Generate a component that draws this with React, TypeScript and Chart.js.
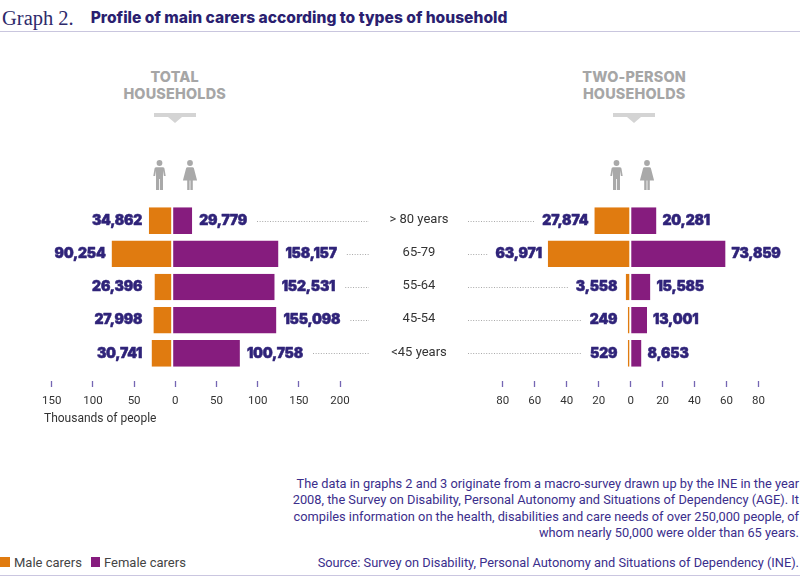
import React, { useEffect, useRef } from 'react';
import { Chart, registerables } from 'chart.js';

Chart.register(...registerables);

// ---- data ----
const AGE_GROUPS = ['> 80 years', '65-79', '55-64', '45-54', '<45 years'];
const SERIES = ['Male carers', 'Female carers'];
const TOTAL_MALE = [34862, 90254, 26396, 27998, 30741];
const TOTAL_FEMALE = [29779, 158157, 152531, 155098, 100758];
const TWO_PERSON_MALE = [27874, 63971, 3558, 249, 529];
const TWO_PERSON_FEMALE = [20281, 73859, 15585, 13001, 8653];
const TOTAL_TICKS = [-150, -100, -50, 0, 50, 100, 150, 200]; // thousands of people
const TWO_PERSON_TICKS = [-80, -60, -40, -20, 0, 20, 40, 60, 80]; // thousands of people

// ---- styles ----
const ORANGE = '#e07b10';
const PURPLE = '#861c7e';
const INK = '#2f2379';
const VALUE_FONT = '900 14px Inter';

const fmt = (v: number) => v.toLocaleString('en-US');

const panelLabelsPlugin = {
  id: 'panelLabels',
  afterDatasetsDraw(chart: any, _args: any, opts: any) {
    const { ctx } = chart;
    const yScale = chart.scales.y;
    const maleMeta = chart.getDatasetMeta(0);
    const femaleMeta = chart.getDatasetMeta(1);
    const maleData = chart.data.datasets[0].data as number[];
    const femaleData = chart.data.datasets[1].data as number[];
    ctx.save();
    (chart.data.labels as string[]).forEach((label, i) => {
      const m = maleMeta.data[i] as any;
      const f = femaleMeta.data[i] as any;
      const y = yScale.getPixelForValue(i);
      ctx.font = VALUE_FONT;
      try { (ctx as any).letterSpacing = '-0.2px'; } catch (e) { /* ignore */ }
      ctx.fillStyle = INK;
      ctx.strokeStyle = INK;
      ctx.lineWidth = 0.5;
      ctx.lineJoin = 'round';
      ctx.textBaseline = 'middle';
      const mText = fmt(Math.abs(maleData[i]));
      const fText = fmt(femaleData[i]);
      const mx = Math.min(m.base - opts.maleColumnInset, m.x - opts.maleGap);
      ctx.textAlign = 'right';
      ctx.fillText(mText, mx, y);
      ctx.strokeText(mText, mx, y);
      const fx = f.x + opts.femaleGap;
      ctx.textAlign = 'left';
      ctx.fillText(fText, fx, y);
      ctx.strokeText(fText, fx, y);
      const mW = ctx.measureText(mText).width;
      const fW = ctx.measureText(fText).width;
      try { (ctx as any).letterSpacing = '0px'; } catch (e) { /* ignore */ }
      let x0: number, x1: number;
      if (opts.leaderSide === 'right') {
        x0 = fx + fW + 10;
        x1 = opts.leaderEdge;
      } else {
        x0 = opts.leaderEdge;
        x1 = mx - mW - 8;
      }
      if (x1 > x0) {
        const ly = Math.round(y) + 0.5;
        ctx.beginPath();
        ctx.setLineDash([1, 1.6]);
        ctx.lineWidth = 1;
        ctx.strokeStyle = '#a9a9a9';
        ctx.moveTo(x0, ly);
        ctx.lineTo(x1, ly);
        ctx.stroke();
        ctx.setLineDash([]);
      }
      if (opts.ageLabelX) {
        ctx.font = '13px Roboto';
        ctx.fillStyle = '#333333';
        ctx.textAlign = 'center';
        ctx.fillText(String(label), opts.ageLabelX, y - 1);
      }
    });
    ctx.restore();
  },
};

type PanelSpec = {
  male: number[];
  female: number[];
  ticks: number[];
  barRange: [number, number];
  axisRange: [number, number];
  padLeft: number;
  axisTitle: string;
  labels: any;
};

function buildConfig(spec: PanelSpec): any {
  const common = {
    xAxisID: 'xb',
    grouped: false,
    categoryPercentage: 1,
    barPercentage: 0.8,
    minBarLength: 2.5,
    borderColor: '#ffffff',
    borderSkipped: false,
  };
  return {
    type: 'bar',
    data: {
      labels: AGE_GROUPS,
      datasets: [
        {
          ...common,
          label: SERIES[0],
          data: spec.male.map((v) => -v),
          backgroundColor: ORANGE,
          borderWidth: { right: 1, left: 0, top: 0, bottom: 0 },
        },
        {
          ...common,
          label: SERIES[1],
          data: spec.female,
          backgroundColor: PURPLE,
          borderWidth: { left: 1, right: 0, top: 0, bottom: 0 },
        },
      ],
    },
    options: {
      indexAxis: 'y',
      animation: false,
      responsive: false,
      maintainAspectRatio: false,
      layout: { padding: { left: spec.padLeft, top: 204, right: 0, bottom: 0 } },
      plugins: {
        legend: { display: false },
        tooltip: { enabled: false },
        panelLabels: spec.labels,
      },
      scales: {
        y: { type: 'category', display: false, offset: true },
        xb: { type: 'linear', display: false, min: spec.barRange[0], max: spec.barRange[1] },
        xt: {
          type: 'linear',
          position: 'bottom',
          min: spec.axisRange[0],
          max: spec.axisRange[1],
          afterBuildTicks: (axis: any) => {
            axis.ticks = spec.ticks.map((v) => ({ value: v }));
          },
          afterFit: (axis: any) => {
            axis.height = 56;
          },
          ticks: {
            callback: (v: any) => String(Math.abs(Number(v))),
            font: { family: 'Roboto', size: 11.5 },
            color: '#333333',
            padding: 7.5,
            autoSkip: false,
            maxRotation: 0,
          },
          grid: {
            drawOnChartArea: false,
            drawTicks: true,
            tickLength: 17,
            tickColor: '#7566b3',
            tickWidth: 1.3,
            tickBorderDash: [0, 11, 6, 40],
          },
          border: { display: false },
          title: {
            display: true,
            text: spec.axisTitle,
            align: 'start',
            font: { family: 'Roboto', size: 12 },
            color: '#333333',
            padding: { top: 4, bottom: 0 },
          },
        },
      },
    },
    plugins: [panelLabelsPlugin],
  };
}

const LEFT_SPEC: PanelSpec = {
  male: TOTAL_MALE,
  female: TOTAL_FEMALE,
  ticks: TOTAL_TICKS,
  barRange: [-190800, 428300],
  axisRange: [-159.4, 345.6],
  padLeft: 44,
  axisTitle: 'Thousands of people',
  labels: { maleColumnInset: 30, maleGap: 6, femaleGap: 7, leaderSide: 'right', leaderEdge: 369, ageLabelX: 419 },
};

const RIGHT_SPEC: PanelSpec = {
  male: TWO_PERSON_MALE,
  female: TWO_PERSON_FEMALE,
  ticks: TWO_PERSON_TICKS,
  barRange: [-132000, 131550],
  axisRange: [-106.8, 106.0],
  padLeft: 0,
  axisTitle: ' ',
  labels: { maleColumnInset: 13, maleGap: 6, femaleGap: 6, leaderSide: 'left', leaderEdge: 8 },
};

const ICON_GRAY = '#a9a9a9';

function MaleIcon({ cx }: { cx: number }) {
  return (
    <svg width={13} height={30} viewBox="0 0 13 30" style={{ position: 'absolute', left: cx - 6.5, top: 160 }}>
      <circle cx={6.5} cy={3} r={2.9} fill={ICON_GRAY} />
      <path
        d="M3 7.2 h7 a1.5 1.5 0 0 1 1.5 1.5 l1.2 7.3 h-1.8 l-0.9 -5.5 v19.5 h-3.1 v-11 h-0.8 v11 h-3.1 v-19.5 l-0.9 5.5 h-1.8 l1.2 -7.3 a1.5 1.5 0 0 1 1.5 -1.5 z"
        fill={ICON_GRAY}
      />
    </svg>
  );
}

function FemaleIcon({ cx }: { cx: number }) {
  return (
    <svg width={16} height={30} viewBox="0 0 16 30" style={{ position: 'absolute', left: cx - 8, top: 160 }}>
      <circle cx={8} cy={3} r={2.9} fill={ICON_GRAY} />
      <path
        d="M5.5 7.2 h5 a1.5 1.5 0 0 1 1.4 1 l3.2 12.3 h-4.3 v9.5 h-2.4 v-9.5 h-0.8 v9.5 h-2.4 v-9.5 h-4.3 l3.2 -12.3 a1.5 1.5 0 0 1 1.4 -1 z"
        fill={ICON_GRAY}
      />
    </svg>
  );
}

function PanelHeader({ cx, lines, maleX, femaleX }: { cx: number; lines: string[]; maleX: number; femaleX: number }) {
  return (
    <>
      <div
        style={{
          position: 'absolute',
          left: cx - 100,
          width: 200,
          top: 68.3,
          textAlign: 'center',
          fontFamily: 'Inter, sans-serif',
          fontWeight: 800,
          fontSize: 14.4,
          lineHeight: '17px',
          color: '#a6a6a6',
          letterSpacing: 0.2,
          whiteSpace: 'nowrap',
        }}
      >
        {lines[0]}
        <br />
        {lines[1]}
      </div>
      <div style={{ position: 'absolute', left: cx - 21, top: 112.7, width: 42, height: 4.6, background: '#d4d4d4' }} />
      <div
        style={{
          position: 'absolute',
          left: cx - 7,
          top: 117.3,
          width: 0,
          height: 0,
          borderLeft: '7px solid transparent',
          borderRight: '7px solid transparent',
          borderTop: '6px solid #d4d4d4',
        }}
      />
      <MaleIcon cx={maleX} />
      <FemaleIcon cx={femaleX} />
    </>
  );
}

const FOOTER_LINES = [
  'The data in graphs 2 and 3 originate from a macro-survey drawn up by the INE in the year',
  '2008, the Survey on Disability, Personal Autonomy and Situations of Dependency (AGE). It',
  'compiles information on the health, disabilities and care needs of over 250,000 people, of',
  'whom nearly 50,000 were older than 65 years.',
];
const SOURCE = 'Source: Survey on Disability, Personal Autonomy and Situations of Dependency (INE).';

export default function App() {
  const leftRef = useRef<HTMLCanvasElement | null>(null);
  const rightRef = useRef<HTMLCanvasElement | null>(null);

  useEffect(() => {
    const a = new Chart(leftRef.current as HTMLCanvasElement, buildConfig(LEFT_SPEC));
    const b = new Chart(rightRef.current as HTMLCanvasElement, buildConfig(RIGHT_SPEC));
    return () => {
      a.destroy();
      b.destroy();
    };
  }, []);

  const footerStyle: React.CSSProperties = {
    position: 'absolute',
    right: 1,
    textAlign: 'right',
    fontFamily: 'Roboto, sans-serif',
    fontSize: 12.8,
    lineHeight: '16.6px',
    color: '#3b2e8c',
    whiteSpace: 'nowrap',
  };

  return (
    <div
      style={{
        position: 'absolute',
        left: 0,
        top: 0,
        width: 800,
        height: 583,
        background: '#ffffff',
        overflow: 'hidden',
        fontFamily: 'Roboto, sans-serif',
      }}
    >
      {/* title */}
      <div
        style={{
          position: 'absolute',
          left: 2,
          top: 6,
          fontFamily: '"Liberation Serif", serif',
          fontSize: 20.5,
          lineHeight: '24px',
          color: '#2e2a6b',
          whiteSpace: 'nowrap',
        }}
      >
        Graph 2.
      </div>
      <div
        style={{
          position: 'absolute',
          left: 90.7,
          top: 8.5,
          fontFamily: 'Inter, sans-serif',
          fontWeight: 800,
          fontSize: 15.6,
          lineHeight: '18px',
          color: '#2b1f70',
          letterSpacing: 0,
          whiteSpace: 'nowrap',
        }}
      >
        Profile of main carers according to types of household
      </div>
      <div style={{ position: 'absolute', left: 0, top: 30.5, width: 800, height: 1, background: '#c9c6de' }} />

      <PanelHeader cx={174.7} lines={['TOTAL', 'HOUSEHOLDS']} maleX={159.3} femaleX={190} />
      <PanelHeader cx={634.2} lines={['TWO-PERSON', 'HOUSEHOLDS']} maleX={616.7} femaleX={647.3} />

      <canvas ref={leftRef} width={460} height={426} style={{ position: 'absolute', left: 0, top: 0 }} />
      <canvas ref={rightRef} width={340} height={426} style={{ position: 'absolute', left: 460, top: 0 }} />

      {/* footer note */}
      <div style={{ ...footerStyle, top: 475.5 }}>
        {FOOTER_LINES.map((l, i) => (
          <div key={i}>{l}</div>
        ))}
      </div>
      <div style={{ ...footerStyle, top: 554.8 }}>{SOURCE}</div>

      {/* legend */}
      <div style={{ position: 'absolute', left: 0, top: 557.3, width: 9.5, height: 9.5, background: ORANGE }} />
      <div style={{ position: 'absolute', left: 14, top: 555.5, fontSize: 13, lineHeight: '14px', color: '#444444', whiteSpace: 'nowrap' }}>
        {SERIES[0]}
      </div>
      <div style={{ position: 'absolute', left: 90.7, top: 557.3, width: 9.5, height: 9.5, background: PURPLE }} />
      <div style={{ position: 'absolute', left: 104, top: 555.5, fontSize: 13, lineHeight: '14px', color: '#444444', whiteSpace: 'nowrap' }}>
        {SERIES[1]}
      </div>

      <div style={{ position: 'absolute', left: 0, top: 575, width: 800, height: 1.3, background: '#cac6e0' }} />
    </div>
  );
}
